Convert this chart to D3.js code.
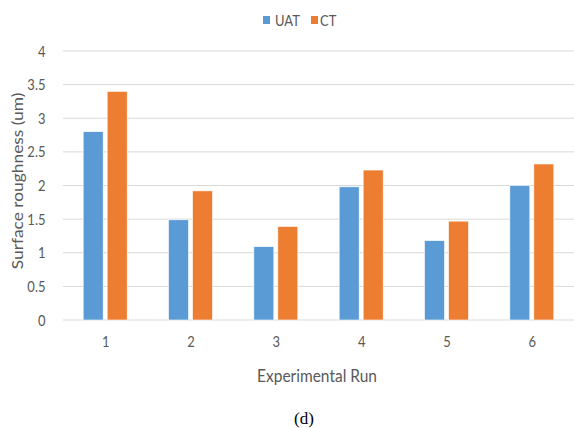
<!DOCTYPE html>
<html>
<head>
<meta charset="utf-8">
<script src="https://cdn.jsdelivr.net/npm/d3@7"></script>
<style>
  html, body { margin: 0; padding: 0; background: #fff; }
  svg { display: block; }
</style>
</head>
<body>
<svg id="chart" width="574" height="428"></svg>
<script>
const categories = ["1", "2", "3", "4", "5", "6"];
const seriesNames = ["UAT", "CT"];
const uatValues = [2.8, 1.49, 1.09, 1.98, 1.18, 2.0];
const ctValues = [3.4, 1.92, 1.39, 2.23, 1.47, 2.32];
const yTicks = [0, 0.5, 1, 1.5, 2, 2.5, 3, 3.5, 4];
const colors = ["#5B9BD5", "#ED7D31"];

const svg = d3.select("#chart");
const font = "Lato, 'Open Sans', sans-serif";
const textColor = "#595959";

const x = d3.scaleBand().domain(categories).range([63, 575]).padding(0);
const y = d3.scaleLinear().domain([0, 4]).range([320, 51]);

// gridlines
svg.append("g").selectAll("line").data(yTicks).join("line")
  .attr("x1", 63).attr("x2", 574)
  .attr("y1", d => y(d)).attr("y2", d => y(d))
  .attr("stroke", "#d9d9d9").attr("stroke-width", 1);

// y tick labels
svg.append("g").selectAll("text").data(yTicks).join("text")
  .attr("transform", d => `translate(45.5,${y(d)}) scale(1,1.18)`)
  .attr("dy", "0.36em")
  .attr("text-anchor", "end")
  .attr("font-family", font).attr("font-size", 13).attr("fill", textColor)
  .text(d => d3.format("")(d));

// bars
const barW = 20, gap = 4;
const data = categories.map((c, i) => ({ c, vals: [uatValues[i], ctValues[i]] }));
const groups = svg.append("g").selectAll("g").data(data).join("g")
  .attr("transform", d => `translate(${x(d.c) + x.bandwidth() / 2 - 0.5},0)`);
groups.selectAll("rect").data(d => d.vals.map((v, k) => ({ v, k }))).join("rect")
  .attr("x", d => d.k === 0 ? -(barW + gap / 2) : gap / 2)
  .attr("width", barW)
  .attr("y", d => y(d.v))
  .attr("height", d => y(0) - y(d.v))
  .attr("fill", d => colors[d.k])
  .attr("stroke", "#fff").attr("stroke-width", 0.6);

// x tick labels
svg.append("g").selectAll("text").data(categories).join("text")
  .attr("transform", d => `translate(${x(d) + x.bandwidth() / 2},347) scale(1,1.18)`)
  .attr("text-anchor", "middle")
  .attr("font-family", font).attr("font-size", 13).attr("fill", textColor)
  .text(d => d);

// axis titles
svg.append("text")
  .attr("transform", "translate(317,382) scale(1,1.15)")
  .attr("text-anchor", "middle")
  .attr("font-family", font).attr("font-size", 15.5).attr("fill", textColor)
  .text("Experimental Run");

svg.append("text")
  .attr("transform", "translate(23,181) rotate(-90) scale(1.12,1)")
  .attr("text-anchor", "middle")
  .attr("font-family", font).attr("font-size", 15.5).attr("fill", textColor)
  .text("Surface roughness (um)");

// legend
const legendItems = [{ name: seriesNames[0], x: 263, tx: 275 }, { name: seriesNames[1], x: 311, tx: 320 }];
const leg = svg.append("g");
legendItems.forEach((d, i) => {
  leg.append("rect").attr("x", d.x).attr("y", 16).attr("width", 7).attr("height", 8).attr("fill", colors[i]);
  leg.append("text").attr("transform", `translate(${d.tx},20) scale(1,1.18)`).attr("dy", "0.36em")
    .attr("font-family", font).attr("font-size", 13).attr("fill", textColor)
    .text(d.name);
});

// caption
svg.append("text")
  .attr("x", 304).attr("y", 424)
  .attr("text-anchor", "middle")
  .attr("font-family", "'Liberation Serif', 'Times New Roman', serif")
  .attr("font-size", 17).attr("fill", "#000")
  .text("(d)");
</script>
</body>
</html>
